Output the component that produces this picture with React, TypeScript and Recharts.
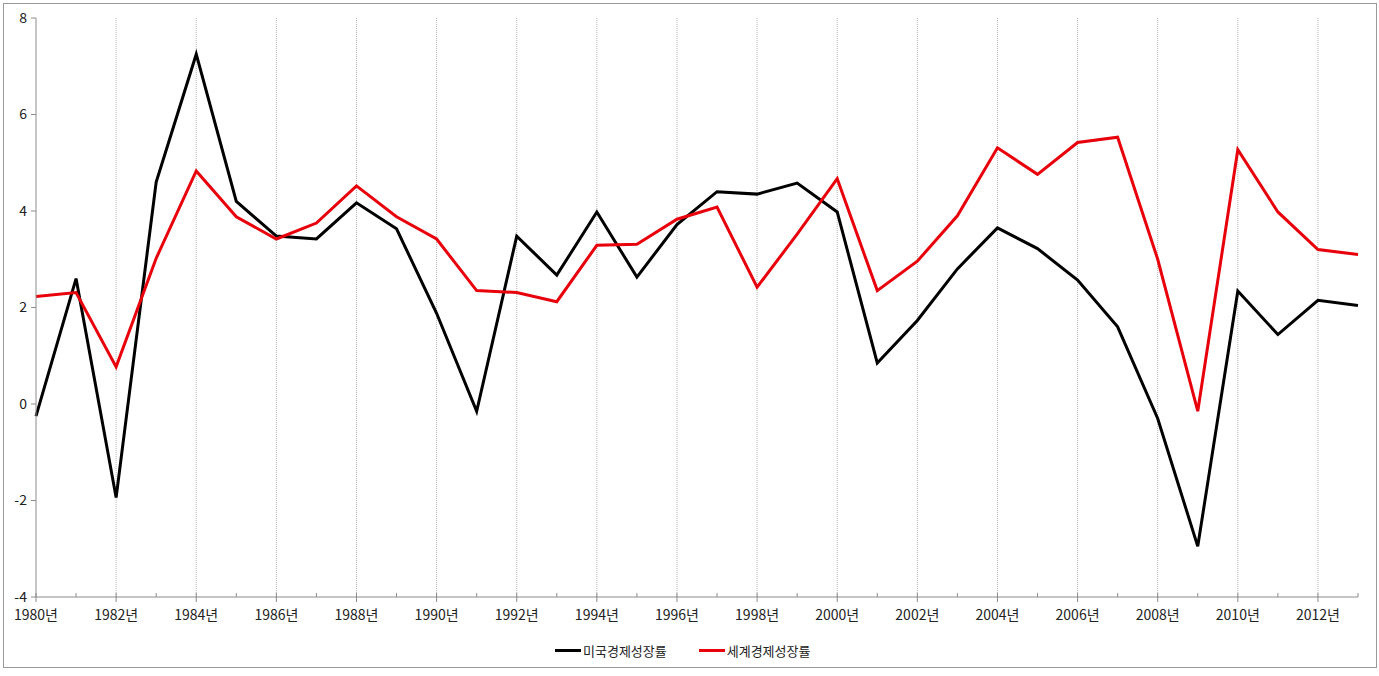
import { LineChart, Line, XAxis, YAxis, ReferenceLine } from 'recharts';

const years = [
  1980, 1981, 1982, 1983, 1984, 1985, 1986, 1987, 1988, 1989,
  1990, 1991, 1992, 1993, 1994, 1995, 1996, 1997, 1998, 1999,
  2000, 2001, 2002, 2003, 2004, 2005, 2006, 2007, 2008, 2009,
  2010, 2011, 2012, 2013,
];

// 미국 GDP 성장률 (%)
const usGrowth = [
  -0.25, 2.6, -1.94, 4.6, 7.25, 4.2, 3.48, 3.42, 4.17, 3.63,
  1.88, -0.15, 3.48, 2.67, 3.98, 2.63, 3.72, 4.4, 4.35, 4.58,
  3.98, 0.85, 1.73, 2.8, 3.65, 3.22, 2.57, 1.6, -0.3, -2.95,
  2.34, 1.44, 2.15, 2.04,
];

// 세계 GDP 성장률 (%)
const worldGrowth = [
  2.23, 2.31, 0.77, 3.02, 4.83, 3.88, 3.42, 3.75, 4.52, 3.88,
  3.42, 2.35, 2.31, 2.12, 3.29, 3.31, 3.83, 4.08, 2.42, 3.52,
  4.67, 2.35, 2.96, 3.9, 5.31, 4.76, 5.42, 5.53, 3.0, -0.15,
  5.27, 3.98, 3.2, 3.1,
];

const yTicks = [-4, -2, 0, 2, 4, 6, 8];
const gridYears = years.filter((y) => y % 2 === 0 && y !== 1980);

const series = [
  { key: 'us', name: '미국경제성장률', color: '#000000' },
  { key: 'world', name: '세계경제성장률', color: '#e8000b' },
];

const data = years.map((year, i) => ({
  year,
  us: usGrowth[i],
  world: worldGrowth[i],
}));

const FONT = "'Noto Sans CJK KR', 'Noto Sans', sans-serif";
const AXIS = '#8c8c8c';

function YearTick(props: any) {
  const { x, y, payload } = props;
  const major = payload.value % 2 === 0;
  return (
    <g>
      <line x1={x} x2={x} y1={y - 4} y2={major ? y + 5 : y} stroke={AXIS} />
      {major && (
        <text x={x} y={y + 23} textAnchor="middle" fontSize={14} fill="#222" fontFamily={FONT}>
          {`${payload.value}년`}
        </text>
      )}
    </g>
  );
}

export default function App() {
  return (
    <div style={{ position: 'absolute', left: 0, top: 0, width: 1379, height: 676, background: '#fff', fontFamily: FONT }}>
      <div
        style={{
          position: 'absolute',
          left: 3,
          top: 3,
          width: 1372,
          height: 663,
          border: '1px solid #9a9a9a',
        }}
      />
      <div style={{ position: 'absolute', left: 0, top: 0 }}>
        <LineChart width={1379} height={676} data={data} margin={{ top: 18, right: 21, bottom: 49, left: 6 }}>
          {gridYears.map((y) => (
            <ReferenceLine key={y} x={y} stroke="#b4b4b4" strokeDasharray="1 1" />
          ))}
          <XAxis
            dataKey="year"
            interval={0}
            axisLine={{ stroke: AXIS }}
            tickLine={false}
            tickSize={0}
            tickMargin={0}
            tick={<YearTick />}
            height={30}
          />
          <YAxis
            domain={[-4, 8]}
            ticks={yTicks}
            width={30}
            axisLine={{ stroke: AXIS }}
            tickLine={{ stroke: AXIS }}
            tickSize={5}
            tickMargin={4}
            tick={{ fontSize: 14, fill: '#222', fontFamily: FONT }}
          />
          {series.map((s) => (
            <Line
              key={s.key}
              dataKey={s.key}
              name={s.name}
              stroke={s.color}
              strokeWidth={3}
              dot={false}
              type="linear"
              isAnimationActive={false}
            />
          ))}
        </LineChart>
      </div>
      <div style={{ position: 'absolute', left: 555, top: 641, display: 'flex', alignItems: 'center', fontSize: 13, color: '#222' }}>
        {series.map((s) => (
          <div key={s.key} style={{ display: 'flex', alignItems: 'center', marginRight: 32 }}>
            <span style={{ display: 'inline-block', width: 26, height: 3, background: s.color, marginRight: 2 }} />
            <span>{s.name}</span>
          </div>
        ))}
      </div>
    </div>
  );
}
